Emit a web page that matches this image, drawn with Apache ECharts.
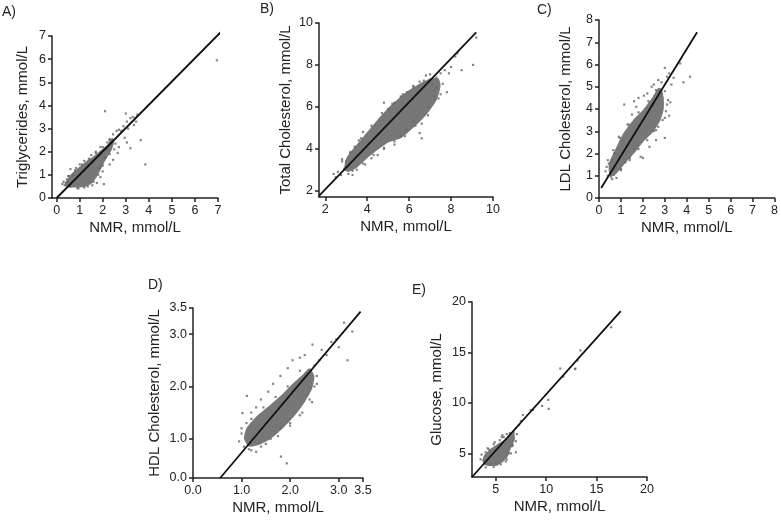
<!DOCTYPE html>
<html>
<head>
<meta charset="utf-8">
<script src="https://cdn.jsdelivr.net/npm/echarts@6/dist/echarts.min.js"></script>
<style>
  html, body { margin: 0; padding: 0; background: #fff; }
  #chart { width: 781px; height: 524px; }
</style>
</head>
<body>
<div id="chart"></div>
<script>
// A) triglycerides
var trigTicks = [0, 1, 2, 3, 4, 5, 6, 7];
var trigCloud = [[0.35,0.55],[0.45,0.8],[0.7,1.1],[1.0,1.35],[1.3,1.6],[1.6,1.8],[1.9,2.05],[2.2,2.3],[2.4,2.6],[2.5,2.5],[2.4,2.1],[2.1,1.6],[1.9,1.2],[1.7,0.85],[1.5,0.6],[1.2,0.47],[0.8,0.45],[0.5,0.45]];
var trigPoints = [[0.25,0.6],[0.3,0.7],[0.35,0.55],[0.4,0.65],[0.45,0.8],[0.5,0.7],[0.6,1.25],[0.7,1.0],[0.55,0.95],[0.85,1.3],[1.0,1.45],[1.2,1.6],[1.5,1.85],[1.7,2.0],[1.9,2.2],[2.1,3.75],[2.2,2.4],[2.3,2.55],[2.45,2.75],[2.6,2.9],[2.7,2.95],[2.8,2.9],[2.9,3.1],[3.0,3.65],[3.05,3.3],[3.2,3.45],[3.3,3.5],[3.4,3.45],[3.5,3.6],[3.45,3.3],[3.35,3.15],[3.1,3.0],[2.95,2.6],[2.7,2.2],[2.5,2.1],[3.2,2.15],[3.05,2.4],[2.65,1.95],[2.3,1.45],[2.45,1.65],[2.0,1.15],[2.05,0.6],[1.9,0.9],[1.75,0.65],[1.55,0.55],[1.2,0.45],[0.95,0.42],[3.65,2.5],[3.85,1.45],[6.95,5.95],[2.2,2.1],[1.85,1.3],[2.1,1.75],
  [0.6,0.5],[0.9,0.42],[1.35,0.5],[1.6,0.7],[1.8,1.0],[2.0,1.4],[2.3,1.9],[0.5,0.95],[0.8,1.2],[1.1,1.45],[1.4,1.7],[1.7,1.95],[2.0,2.2],[2.3,2.5],[2.55,2.35]];
var trigFit = [[0, 0], [7.15, 7.2]];

// B) total cholesterol
var tcTicks = [2, 4, 6, 8, 10];
var tcCloud = [[2.9,3.0],[3.0,3.55],[3.5,4.2],[4.0,4.8],[4.5,5.4],[5.0,5.95],[5.5,6.4],[6.0,6.8],[6.5,7.1],[7.0,7.35],[7.4,7.35],[7.5,7.0],[7.3,6.3],[6.8,5.6],[6.2,5.0],[5.6,4.5],[5.0,4.3],[4.5,3.95],[4.0,3.55],[3.5,3.1],[3.1,2.9]];
var tcPoints = [[2.4,2.8],[2.5,2.65],[2.6,2.9],[2.75,2.75],[2.8,3.5],[2.9,3.05],[3.0,3.4],[3.1,2.8],[3.3,2.75],[3.2,3.8],[3.4,4.1],[3.6,4.4],[3.8,4.8],[3.5,3.0],[3.9,3.25],[4.2,3.55],[4.5,3.7],[4.8,4.0],[4.8,6.2],[5.0,5.9],[5.3,6.2],[5.6,6.5],[5.9,6.7],[6.2,7.0],[6.5,7.2],[6.8,7.5],[7.0,7.55],[7.3,7.4],[7.5,7.6],[7.7,7.75],[7.9,7.6],[8.0,7.9],[8.2,8.4],[8.3,8.55],[8.5,7.75],[9.05,8.0],[9.2,9.3],[7.8,6.7],[7.5,6.6],[7.2,6.5],[6.9,6.0],[6.6,4.5],[6.5,4.75],[6.2,5.3],[5.9,4.9],[5.6,4.6],[5.3,4.2],[6.6,5.2],[7.1,7.1],[7.3,6.9],
  [2.8,3.4],[3.2,3.85],[3.7,4.5],[4.2,5.1],[4.7,5.7],[5.2,6.15],[5.7,6.6],[6.2,6.95],[6.7,7.25],[3.3,2.95],[3.8,3.3],[4.3,3.7],[4.8,4.05],[5.3,4.35],[5.8,4.6],[6.3,5.1],[6.9,5.6],[7.4,6.4],[7.6,7.1]];
var tcFit = [[1.7, 1.75], [9.2, 9.55]];

// C) LDL cholesterol
var ldlTicks = [0, 1, 2, 3, 4, 5, 6, 7, 8];
var ldlCloud = [[0.45,1.2],[0.45,1.55],[0.8,2.3],[1.1,2.9],[1.55,3.5],[2.0,3.95],[2.45,4.55],[2.7,4.95],[2.85,4.9],[2.95,4.5],[2.95,4.0],[2.8,3.5],[2.45,2.95],[2.0,2.5],[1.55,1.95],[1.1,1.45],[0.7,1.0],[0.5,1.0]];
var ldlPoints = [[0.3,1.2],[0.35,1.4],[0.4,1.0],[0.45,1.55],[0.55,0.95],[0.6,1.7],[0.65,1.3],[0.7,2.0],[0.8,0.9],[0.9,2.75],[1.0,1.3],[1.15,4.2],[1.2,1.6],[1.3,3.3],[1.5,3.75],[1.6,4.35],[1.7,4.1],[1.8,4.5],[1.9,1.85],[2.0,1.8],[2.05,4.6],[2.2,4.7],[2.3,2.3],[2.4,5.0],[2.5,5.1],[2.6,2.6],[2.7,5.3],[2.85,5.2],[2.9,3.5],[3.0,2.7],[3.0,5.85],[3.05,3.9],[3.1,5.45],[3.15,4.4],[3.2,5.6],[3.25,4.3],[3.2,3.7],[3.3,5.1],[3.4,5.4],[3.7,6.05],[3.85,5.2],[4.15,5.45],[2.7,3.2],[2.5,3.0],[1.6,2.2],[1.4,1.8],
  [0.4,1.7],[0.65,2.15],[0.95,2.7],[1.35,3.3],[1.8,3.85],[2.25,4.35],[2.6,4.85],[0.6,0.85],[1.0,1.25],[1.4,1.7],[1.8,2.2],[2.2,2.6],[2.6,3.05],[3.0,3.6],[3.1,4.2],[3.0,4.8]];
var ldlFit = [[0.1, 0.45], [4.47, 7.45]];

// D) HDL cholesterol (bottom of y axis is labelled 0.0 in the figure)
var hdlXTicks = [0, 1, 2, 3, 3.5];
var hdlYTicks = [0.25, 1, 2, 3, 3.5];
var hdlCloud = [[1.05,1.0],[1.1,1.2],[1.3,1.42],[1.57,1.63],[1.84,1.85],[2.05,2.05],[2.25,2.22],[2.4,2.35],[2.5,2.2],[2.45,1.95],[2.3,1.7],[2.1,1.45],[1.85,1.2],[1.6,1.0],[1.35,0.88],[1.15,0.85]];
var hdlPoints = [[0.95,0.95],[1.0,1.1],[1.05,0.85],[1.1,1.3],[1.15,0.8],[1.11,1.82],[1.02,1.49],[1.2,1.5],[1.3,1.6],[1.4,1.75],[1.55,1.9],[1.65,2.05],[1.8,2.2],[1.95,2.35],[2.05,2.5],[2.2,2.55],[2.3,2.6],[2.46,2.8],[2.6,2.5],[2.65,2.7],[2.75,2.6],[2.85,2.85],[2.95,2.9],[3.0,2.75],[3.11,3.22],[3.18,2.5],[3.28,3.05],[1.93,0.53],[1.81,0.66],[1.4,0.85],[1.6,1.0],[1.8,1.2],[2.0,1.3],[2.2,1.45],[2.4,1.75],[2.5,2.0],[2.55,2.2],[1.3,0.75],
  [1.0,1.2],[1.2,1.38],[1.45,1.6],[1.7,1.8],[1.95,2.0],[2.2,2.3],[1.2,0.78],[1.5,0.9],[1.75,1.05],[2.0,1.25],[2.25,1.5],[2.45,1.7],[2.55,2.05],[2.5,2.4]];
var hdlFit = [[0.56, 0.25], [3.45, 3.43]];

// E) glucose
var gluTicks = [5, 10, 15, 20];
var gluCloud = [[3.7,4.2],[3.85,4.8],[4.5,5.45],[5.3,6.0],[6.1,6.5],[6.8,7.1],[6.9,6.4],[6.5,5.5],[6.2,4.7],[5.8,4.2],[5.2,3.8],[4.4,3.75],[3.9,3.85]];
var gluPoints = [[3.6,4.87],[3.8,4.3],[4.0,5.1],[4.3,5.4],[4.8,5.9],[5.0,4.0],[5.4,6.3],[5.66,6.8],[6.0,4.2],[6.3,5.0],[6.6,5.7],[6.7,5.8],[7.0,5.1],[6.8,7.15],[7.0,7.5],[7.31,7.8],[7.5,8.2],[7.7,8.8],[8.47,9.29],[8.7,9.3],[9.6,9.7],[10.2,10.3],[10.25,9.4],[11.4,13.4],[11.7,12.6],[12.85,13.35],[12.9,13.4],[13.1,14.2],[13.4,15.2],[16.45,17.5],[5.8,6.6],[6.1,6.9],[4.5,3.9],
  [3.5,4.4],[4.2,5.5],[4.9,6.1],[5.6,6.6],[6.4,7.0],[4.0,3.6],[4.8,3.65],[5.5,3.9],[6.1,4.4],[6.5,5.0],[7.0,6.2],[7.1,6.9]];
var gluFit = [[2.65, 2.65], [17.4, 19.1]];

var FONT = "'Liberation Sans', Arial, sans-serif";
var INK = '#222';

var panels = [
  { grid: { left: 52, top: 36, width: 166, height: 162 }, xr: [-0.2, 7], yr: [0, 7],
    xTicks: trigTicks, yTicks: trigTicks, xFmt: String, yFmt: String,
    yName: 'Triglycerides, mmol/L', yGap: 22, cloud: trigCloud, pts: trigPoints, fit: trigFit },
  { grid: { left: 319, top: 23, width: 174, height: 174 }, xr: [1.7, 10], yr: [1.7, 10],
    xTicks: tcTicks, yTicks: tcTicks, xFmt: String, yFmt: String,
    yName: 'Total Cholesterol, mmol/L', yGap: 26, cloud: tcCloud, pts: tcPoints, fit: tcFit },
  { grid: { left: 599, top: 20, width: 178, height: 178 }, xr: [0, 8], yr: [0, 8],
    xTicks: ldlTicks, yTicks: ldlTicks, xFmt: String, yFmt: String,
    yName: 'LDL Cholesterol, mmol/L', yGap: 26, cloud: ldlCloud, pts: ldlPoints, fit: ldlFit },
  { grid: { left: 193, top: 308, width: 170, height: 170 }, xr: [0, 3.5], yr: [0.25, 3.5],
    xTicks: hdlXTicks, yTicks: hdlYTicks,
    xFmt: function (v) { return v.toFixed(1); },
    yFmt: function (v) { return v < 0.5 ? '0.0' : v.toFixed(1); },
    yName: 'HDL Cholesterol, mmol/L', yGap: 31, cloud: hdlCloud, pts: hdlPoints, fit: hdlFit },
  { grid: { left: 472, top: 302, width: 175, height: 175 }, xr: [2.65, 20], yr: [2.65, 20],
    xTicks: gluTicks, yTicks: gluTicks, xFmt: String, yFmt: String,
    yName: 'Glucose, mmol/L', yGap: 28, cloud: gluCloud, pts: gluPoints, fit: gluFit }
];

var chart = echarts.init(document.getElementById('chart'));

function axis(range, ticks, fmt, name, gap) {
  return {
    type: 'value', min: range[0], max: range[1],
    name: name, nameLocation: 'middle', nameGap: gap,
    nameTextStyle: { color: INK, fontSize: 15, fontFamily: FONT },
    splitLine: { show: false },
    axisLine: { onZero: false, lineStyle: { color: INK, width: 1.5 } },
    axisTick: { length: 4, customValues: ticks, lineStyle: { color: INK, width: 1.5 } },
    axisLabel: { customValues: ticks, formatter: fmt, color: INK, fontSize: 12.5, fontFamily: FONT, margin: 6 }
  };
}

var option = { animation: false, grid: [], xAxis: [], yAxis: [], series: [], graphic: [] };

panels.forEach(function (p, i) {
  option.grid.push(p.grid);
  option.xAxis.push(Object.assign(axis(p.xr, p.xTicks, p.xFmt, 'NMR, mmol/L', 22), { gridIndex: i }));
  option.yAxis.push(Object.assign(axis(p.yr, p.yTicks, p.yFmt, p.yName, p.yGap), { gridIndex: i }));
  var cloud = p.cloud;
  // dense core of the cloud, drawn as a filled outline on the panel's axes
  option.series.push({
    type: 'custom', xAxisIndex: i, yAxisIndex: i, silent: true, data: [0], z: 1,
    renderItem: function (params, api) {
      return {
        type: 'polygon',
        shape: { points: cloud.map(function (c) { return api.coord(c); }), smooth: 0.2 },
        style: { fill: '#777' }
      };
    }
  });
  option.series.push({
    type: 'scatter', xAxisIndex: i, yAxisIndex: i, data: p.pts, z: 2,
    symbol: 'rect', symbolSize: 2.2, itemStyle: { color: '#666' }
  });
  option.series.push({
    type: 'line', xAxisIndex: i, yAxisIndex: i, data: p.fit, z: 3, clip: false,
    symbol: 'none', lineStyle: { color: '#111', width: 1.8 }
  });
});

var letters = [['A)', 2, 5], ['B)', 260, 2], ['C)', 537, 3], ['D)', 148, 278], ['E)', 412, 283]];
letters.forEach(function (l) {
  option.graphic.push({ type: 'text', left: l[1], top: l[2],
    style: { text: l[0], font: '14px ' + FONT, fill: INK } });
});

chart.setOption(option);
</script>
</body>
</html>
